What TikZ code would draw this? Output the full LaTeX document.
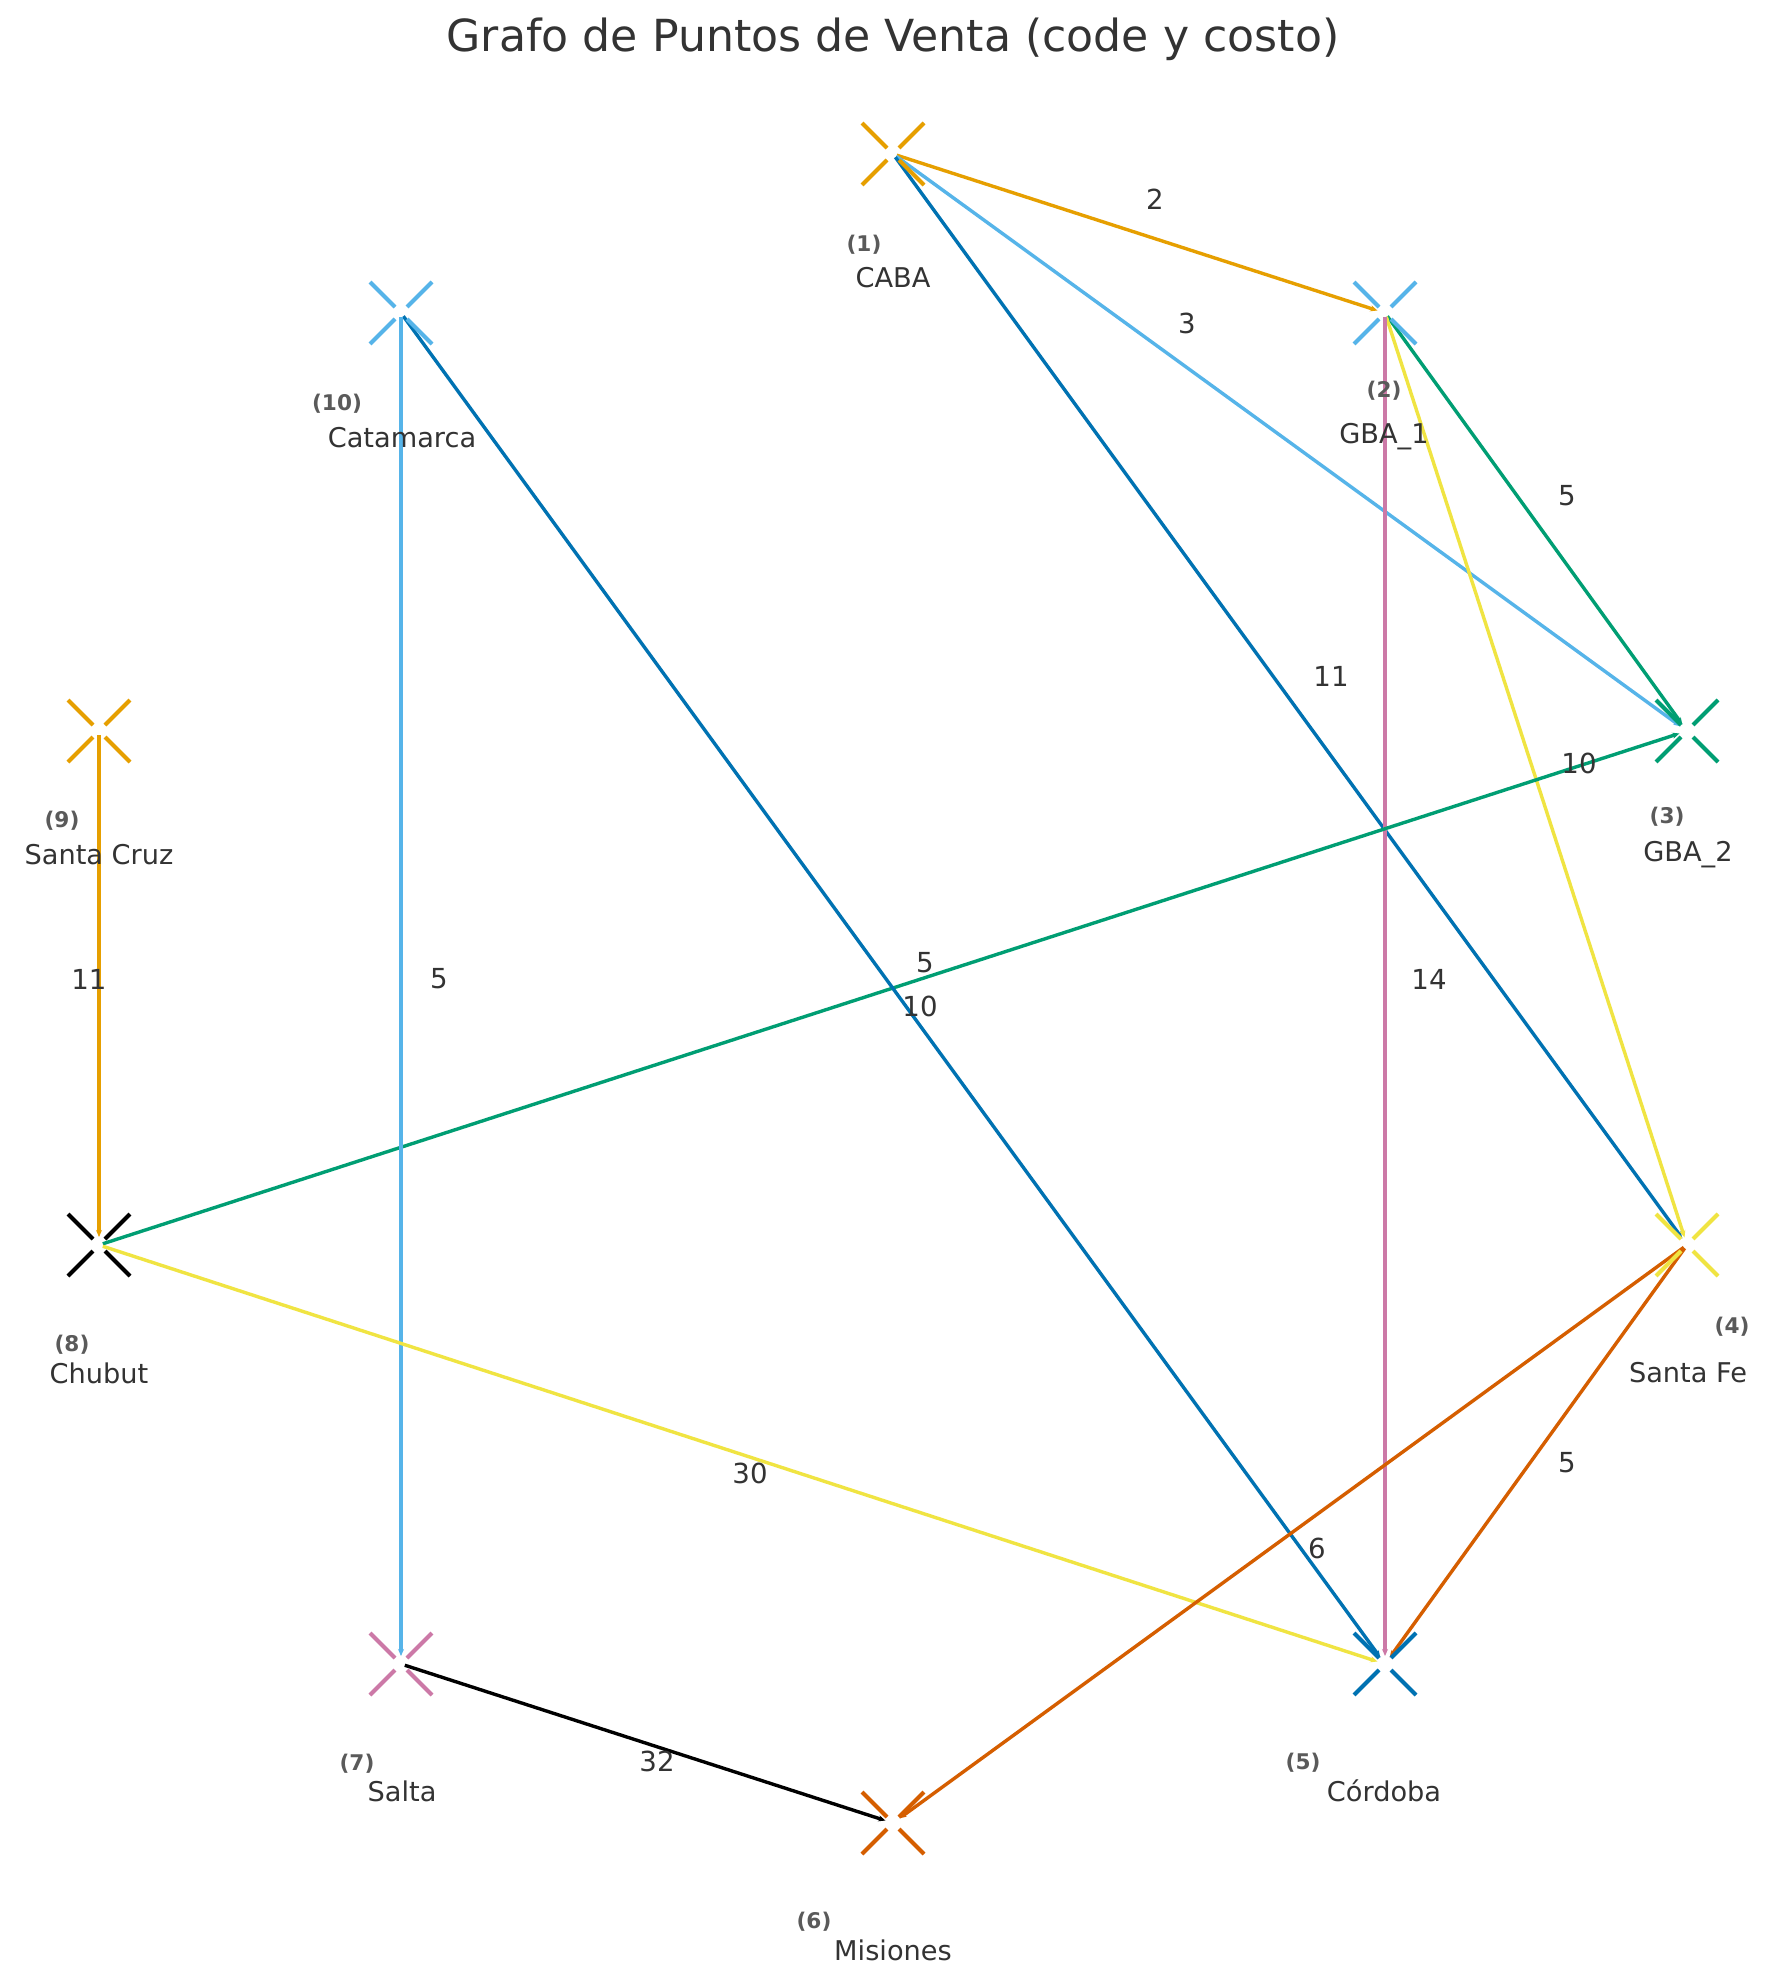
\documentclass[tikz,border=0pt]{standalone}
\usepackage{fontspec}
\setmainfont{DejaVu Sans}
\usetikzlibrary{arrows.meta}
\definecolor{cOr}{HTML}{E69F00}
\definecolor{cSk}{HTML}{56B4E9}
\definecolor{cGr}{HTML}{009E73}
\definecolor{cYe}{HTML}{F0E442}
\definecolor{cBl}{HTML}{0072B2}
\definecolor{cVe}{HTML}{D55E00}
\definecolor{cPu}{HTML}{CC79A7}
\definecolor{cBk}{HTML}{000000}
\definecolor{txt}{HTML}{333333}
\definecolor{idx}{HTML}{5A5A5A}
\begin{document}
\begin{tikzpicture}[x=0.5pt,y=-0.5pt,
  edge/.style={line width=1.7pt,-{Stealth[length=3.5pt,width=3pt]},shorten >=4pt,shorten <=2pt},
  nm/.style={text=txt,font=\fontsize{13.6}{16}\selectfont,inner sep=0pt},
  ix/.style={text=idx,font=\fontsize{10.8}{13}\selectfont\bfseries,inner sep=0pt},
  el/.style={text=txt,font=\fontsize{13.8}{16}\selectfont,inner sep=0pt},
  xm/.pic={\draw[line width=2pt,#1] (-31,-31)--(-6,-6) (31,-31)--(6,-6) (-31,31)--(-6,6) (31,31)--(6,6);}
]
\useasboundingbox (0,0) rectangle (1788,1984);
\fill[white] (0,0) rectangle (1788,1984);

% node centres
\coordinate (CABA) at (893,154);
\coordinate (GBA1) at (1385,313);
\coordinate (GBA2) at (1687,731);
\coordinate (SFe) at (1687,1245);
\coordinate (Cor) at (1385,1664);
\coordinate (Mis) at (893,1823);
\coordinate (Sal) at (401,1664);
\coordinate (Chu) at (99,1245);
\coordinate (SCr) at (99,731);
\coordinate (Cat) at (401,313);

% edges
\draw[edge,cOr] (CABA) -- (GBA1);
\draw[edge,cSk] (CABA) -- (GBA2);
\draw[edge,cBl] (CABA) -- (SFe);
\draw[edge,cGr] (GBA1) -- (GBA2);
\draw[edge,cYe] (GBA1) -- (SFe);
\draw[edge,cPu] (GBA1) -- (Cor);
\draw[edge,cGr] (Chu) -- (GBA2);
\draw[edge,cBl] (Cat) -- (Cor);
\draw[edge,cSk] (Cat) -- (Sal);
\draw[edge,cOr] (SCr) -- (Chu);
\draw[edge,cYe] (Chu) -- (Cor);
\draw[edge,cVe] (SFe) -- (Cor);
\draw[edge,cVe] (SFe) -- (Mis);
\draw[edge,cBk] (Sal) -- (Mis);

% markers
\pic at (CABA) {xm=cOr};
\pic at (GBA1) {xm=cSk};
\pic at (GBA2) {xm=cGr};
\pic at (SFe) {xm=cYe};
\pic at (Cor) {xm=cBl};
\pic at (Mis) {xm=cVe};
\pic at (Sal) {xm=cPu};
\pic at (Chu) {xm=cBk};
\pic at (SCr) {xm=cOr};
\pic at (Cat) {xm=cSk};

% names
\node[nm] (nCABA) at (893,278) {CABA};
\node[nm] (nGBA1) at (1384,437) {GBA\_1};
\node[nm] (nGBA2) at (1688,855) {GBA\_2};
\node[nm] (nSFe) at (1688,1373) {Santa Fe};
\node[nm] (nCor) at (1384,1791) {Córdoba};
\node[nm] (nMis) at (893,1950) {Misiones};
\node[nm] (nSal) at (402,1791) {Salta};
\node[nm] (nChu) at (99,1373) {Chubut};
\node[nm] (nSCr) at (99,855) {Santa Cruz};
\node[nm] (nCat) at (402,438) {Catamarca};

% indices
\node[ix] (iCABA) at (864,245) {(1)};
\node[ix] (iGBA1) at (1384,391) {(2)};
\node[ix] (iGBA2) at (1667,817) {(3)};
\node[ix] (iSFe) at (1732,1327) {(4)};
\node[ix] (iCor) at (1303,1763) {(5)};
\node[ix] (iMis) at (814,1922) {(6)};
\node[ix] (iSal) at (357,1764) {(7)};
\node[ix] (iChu) at (72,1345) {(8)};
\node[ix] (iSCr) at (62,821) {(9)};
\node[ix] (iCat) at (337,404) {(10)};

% edge labels
\node[el] (w1) at (1155,199) {2};
\node[el] (w2) at (1187,323) {3};
\node[el] (w3) at (1331,676) {11};
\node[el] (w4) at (1567,496) {5};
\node[el] (w5) at (1579,763) {10};
\node[el] (w6) at (1429,979) {14};
\node[el] (w7) at (925,963) {5};
\node[el] (w8) at (920,1006) {10};
\node[el] (w9) at (439,979) {5};
\node[el] (w10) at (89,979) {11};
\node[el] (w11) at (750,1473) {30};
\node[el] (w12) at (1567,1463) {5};
\node[el] (w13) at (1317,1548) {6};
\node[el] (w14) at (657,1761) {32};

% title
\node[text=txt,font=\fontsize{22.1}{26}\selectfont,inner sep=0pt] (title) at (893,39) {Grafo de Puntos de Venta (code y costo)};
\end{tikzpicture}
\end{document}
